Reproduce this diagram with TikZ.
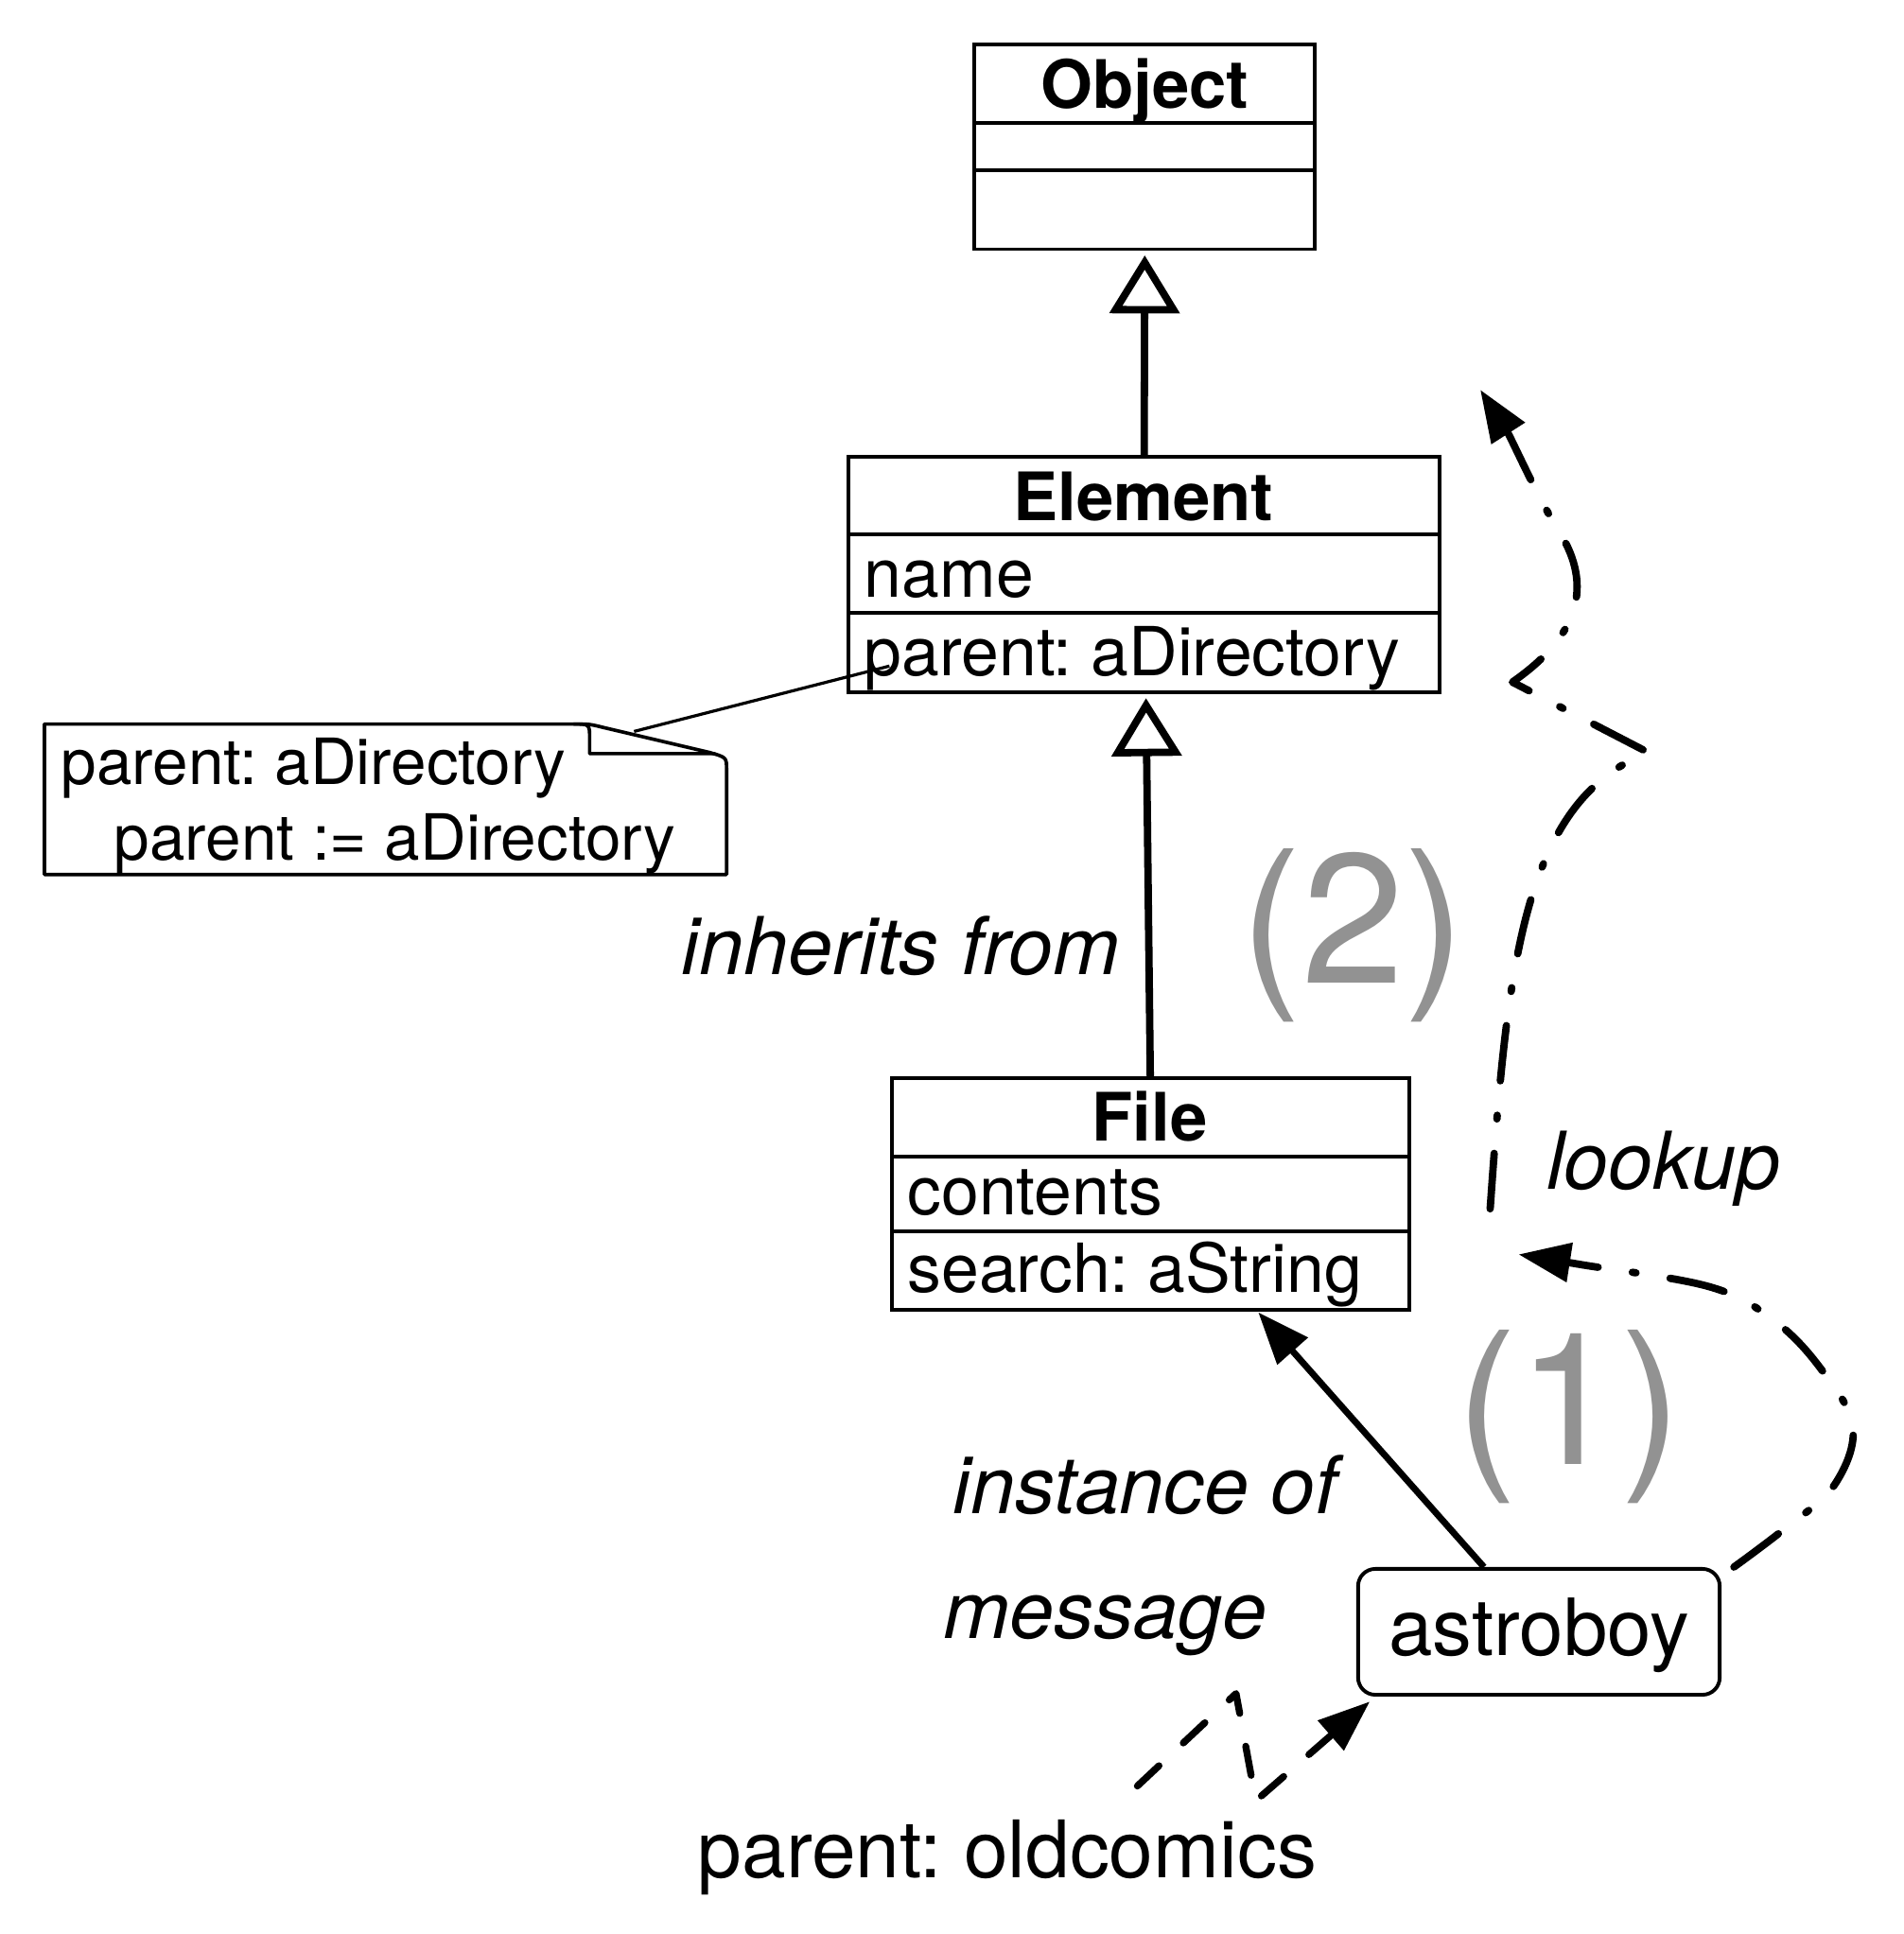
\documentclass[tikz,border=0pt]{standalone}
\usepackage{fontspec}
\setmainfont{TeX Gyre Heros}
\usetikzlibrary{arrows.meta}
\definecolor{numgray}{RGB}{146,146,146}
\frenchspacing
\begin{document}
\begin{tikzpicture}[x=0.01cm,y=-0.01cm,
  part/.style={draw, line width=0.85pt, inner sep=0pt, outer sep=0pt},
  ttl/.style={font=\fontsize{15.4}{18}\selectfont\bfseries, anchor=base, inner sep=0pt},
  attr/.style={font=\fontsize{15.6}{18}\selectfont, anchor=base west, inner sep=0pt},
  notetxt/.style={font=\fontsize{14.7}{17}\selectfont, anchor=base west, inner sep=0pt},
  lbl/.style={font=\fontsize{18.4}{21}\selectfont\itshape, anchor=base west, inner sep=0pt},
  plaintxt/.style={font=\fontsize{18.3}{21}\selectfont, anchor=base west, inner sep=0pt},
  bignum/.style={font=\fontsize{42.5}{50}\selectfont, text=numgray, anchor=base west, inner sep=0pt},
  inh/.style={line width=1.7pt, -{Triangle[open, length=0.47cm, width=0.56cm, line width=1.7pt]}},
  solidarrow/.style={line width=1.5pt, -{Triangle[length=0.42cm, width=0.32cm]}},
  msgline/.style={line width=1.6pt, line cap=round, line join=round, dash pattern=on 0.24cm off 0.27cm, -{Triangle[length=0.42cm, width=0.31cm]}},
  lookline/.style={line width=1.7pt, line cap=round, line join=round, dash pattern=on 0.45cm off 0.28cm on 0.03cm off 0.28cm, -{Triangle[length=0.42cm, width=0.31cm]}},
]
\useasboundingbox[fill=white] (0,0) rectangle (1543,1568);

% Object
\node[part, minimum width=2.76cm, minimum height=0.64cm] (objT) at (928,68) {};
\node[part, minimum width=2.76cm, minimum height=0.38cm] (objM) at (928,119) {};
\node[part, minimum width=2.76cm, minimum height=0.64cm] (objB) at (928,170) {};
\node[ttl] (objName) at (928,88) {Object};

% Element
\node[part, minimum width=4.79cm, minimum height=0.63cm] (elT) at (927.5,401.5) {};
\node[part, minimum width=4.79cm, minimum height=0.64cm] (elN) at (927.5,465) {};
\node[part, minimum width=4.79cm, minimum height=0.64cm] (elP) at (927.5,529) {};
\node[ttl] (elName) at (927,422) {Element};
\node[attr] (elA1) at (700,484) {name};
\node[attr] (elA2) at (700,548) {parent: aDirectory};

% File
\node[part, minimum width=4.19cm, minimum height=0.64cm] (fiT) at (932.5,906) {};
\node[part, minimum width=4.19cm, minimum height=0.60cm] (fiC) at (932.5,968) {};
\node[part, minimum width=4.19cm, minimum height=0.64cm] (fiS) at (932.5,1030) {};
\node[ttl] (fiName) at (932,925) {File};
\node[attr] (fiA1) at (735,985) {contents};
\node[attr] (fiA2) at (735,1048) {search: aString};

% inheritance
\draw[inh] (elT.north) -- ([yshift=-0.05cm]objB.south);
\draw[inh] (fiT.north) -- ([yshift=-0.05cm, xshift=0.015cm]elP.south);

% note
\draw[line width=0.8pt, line join=round] (36,587) -- (465,587) .. controls (478,587) .. (490,590) -- (575,610) .. controls (589,614) .. (589,624) -- (589,709) -- (36,709) -- cycle;
\draw[line width=0.8pt, line join=round] (465,587) .. controls (478,587) .. (478,599) -- (478,611) -- (580,611);
\node[notetxt] (n1) at (49,636) {parent: aDirectory};
\node[notetxt] (n2) at (92,697) {parent := aDirectory};
\coordinate (noteAnchor) at (514,593);
\coordinate (elemHook) at (721,540);
\draw[line width=0.7pt] (noteAnchor) -- (elemHook);

% labels
\node[lbl] (lblInherits) at (552,790) {inherits from};
\node[bignum] (num2) at (1005,797) {(2)};
\node[lbl] (lblLookup) at (1253,964) {lookup};
\node[bignum] (num1) at (1180,1187) {(1)};
\node[lbl] (lblInstance) at (772,1227) {instance of};
\node[lbl] (lblMessage) at (764,1328) {message};
\node[plaintxt] (lblParent) at (565,1522) {parent: oldcomics};

% astroboy
\node[draw, line width=0.85pt, rounded corners=0.14cm, minimum width=2.93cm, minimum height=1.02cm, inner sep=0pt, font=\fontsize{18.2}{21}\selectfont, text height=14.4pt, text depth=3.6pt] (astro) at (1247.5,1323) {astroboy};

% instance of
\draw[solidarrow] ([xshift=-0.445cm]astro.north) -- ([xshift=0.875cm, yshift=-0.02cm]fiS.south);

% message
\coordinate (msgStart) at (922,1448);
\coordinate (msgBendA) at (1002,1373);
\coordinate (msgBendB) at (1018,1460);
\draw[msgline] (msgStart) -- (msgBendA) -- (msgBendB) -- ([shift={(0.11cm,-0.04cm)}]astro.south west);

% lookup (1)
\coordinate (lookStartA) at ([xshift=0.1cm]astro.north east);
\coordinate (lookEndA) at (1231,1017);
\draw[lookline] plot[smooth, tension=0.6] coordinates {(lookStartA) (1446,1240) (1487,1204) (1502,1156) (1474,1107) (1436,1069) (1385,1043) (1280,1025) (lookEndA)};

% lookup (2)
\coordinate (lookStartB) at (1208,980);
\coordinate (lookEndB) at (1200,316);
\draw[lookline] (lookStartB) .. controls (1222,780) and (1235,650) .. (1336,610) -- (1226,553) .. controls (1285,512) and (1290,470) .. (1262,428) .. controls (1245,400) and (1225,355) .. (lookEndB);
\end{tikzpicture}
\end{document}
